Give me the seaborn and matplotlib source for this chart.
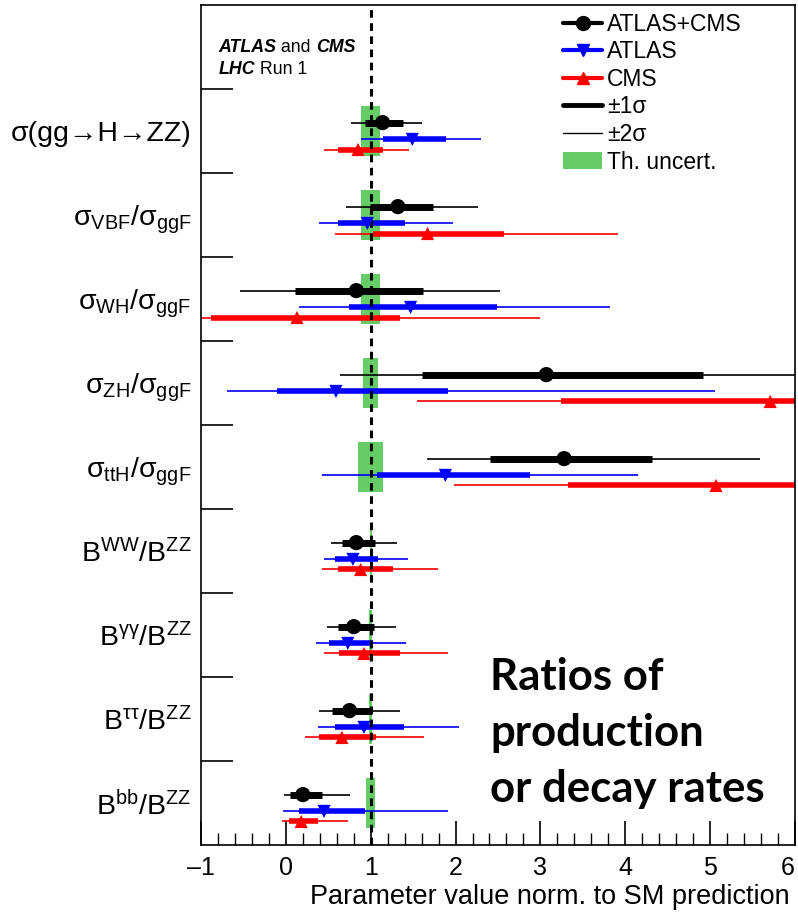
import numpy as np
import pandas as pd
import seaborn as sns
import matplotlib
matplotlib.use("Agg")
import matplotlib.pyplot as plt
from matplotlib.lines import Line2D
from matplotlib.patches import Patch, Rectangle
from matplotlib.ticker import MultipleLocator

# ---------------- data ----------------
labels = [
    "σ(gg→H→ZZ)",
    r"$\mathregular{σ_{VBF}/σ_{ggF}}$",
    r"$\mathregular{σ_{WH}/σ_{ggF}}$",
    r"$\mathregular{σ_{ZH}/σ_{ggF}}$",
    r"$\mathregular{σ_{ttH}/σ_{ggF}}$",
    r"$\mathregular{B^{WW}/B^{ZZ}}$",
    r"$\mathregular{B^{γγ}/B^{ZZ}}$",
    r"$\mathregular{B^{ττ}/B^{ZZ}}$",
    r"$\mathregular{B^{bb}/B^{ZZ}}$",
]

comb_val = [1.14, 1.32, 0.83, 3.07, 3.28, 0.83, 0.80, 0.75, 0.20]
comb_lo1 = [0.93, 0.99, 0.11, 1.61, 2.41, 0.66, 0.62, 0.54, 0.05]
comb_hi1 = [1.38, 1.74, 1.62, 4.92, 4.32, 1.05, 1.04, 1.01, 0.42]
comb_lo2 = [0.77, 0.71, -0.54, 0.64, 1.66, 0.53, 0.49, 0.39, -0.02]
comb_hi2 = [1.61, 2.27, 2.53, 6.50, 5.59, 1.31, 1.30, 1.34, 0.75]

atlas_val = [1.49, 0.96, 1.47, 0.59, 1.88, 0.79, 0.73, 0.92, 0.45]
atlas_lo1 = [1.15, 0.62, 0.74, -0.10, 1.07, 0.58, 0.51, 0.58, 0.16]
atlas_hi1 = [1.89, 1.40, 2.49, 1.91, 2.88, 1.08, 1.03, 1.39, 0.93]
atlas_lo2 = [0.88, 0.39, 0.16, -0.69, 0.42, 0.45, 0.36, 0.38, -0.04]
atlas_hi2 = [2.30, 1.97, 3.82, 5.06, 4.15, 1.44, 1.41, 2.04, 1.91]

cms_val = [0.85, 1.67, 0.13, 5.71, 5.07, 0.88, 0.92, 0.66, 0.18]
cms_lo1 = [0.62, 1.03, -0.88, 3.24, 3.33, 0.61, 0.63, 0.39, 0.04]
cms_hi1 = [1.15, 2.57, 1.34, 6.50, 6.50, 1.26, 1.34, 1.06, 0.38]
cms_lo2 = [0.45, 0.58, -1.20, 1.55, 1.98, 0.43, 0.45, 0.22, -0.05]
cms_hi2 = [1.45, 3.92, 3.00, 6.50, 6.50, 1.79, 1.91, 1.63, 0.73]

th_unc = [0.11, 0.11, 0.11, 0.09, 0.15, 0.01, 0.02, 0.02, 0.05]

xtick_vals = [-1, 0, 1, 2, 3, 4, 5, 6]
xtick_labels = ["–1", "0", "1", "2", "3", "4", "5", "6"]

# ---------------- style ----------------
sns.set_theme(style="ticks")
plt.rcParams["font.family"] = ["Liberation Sans", "DejaVu Sans"]
plt.rcParams["mathtext.fontset"] = "custom"
plt.rcParams["mathtext.rm"] = "Liberation Sans"
plt.rcParams["mathtext.it"] = "Liberation Sans:italic"
plt.rcParams["mathtext.bf"] = "Liberation Sans:bold"
for key in ["text.color", "axes.labelcolor", "xtick.color", "ytick.color", "axes.edgecolor"]:
    plt.rcParams[key] = "black"

fig = plt.figure(figsize=(7.98, 9.15), dpi=100)
ax = fig.add_axes([0.252, 0.0765, 0.744, 0.918])

nrow = len(labels)
rows = np.arange(1, nrow + 1)  # row k occupies [k, k+1]
off = {"comb": 0.40, "atlas": 0.60, "cms": 0.72}

# theory boxes
for k, u in zip(rows, th_unc):
    ax.add_patch(Rectangle((1 - u, k + 0.2), 2 * u, 0.6, facecolor="#66CC66",
                           edgecolor="none", zorder=1))

series = [
    ("comb", "black", "o", comb_val, comb_lo1, comb_hi1, comb_lo2, comb_hi2, 5.0, 120),
    ("atlas", "#0000FF", "v", atlas_val, atlas_lo1, atlas_hi1, atlas_lo2, atlas_hi2, 4.0, 90),
    ("cms", "#FF0000", "^", cms_val, cms_lo1, cms_hi1, cms_lo2, cms_hi2, 4.0, 90),
]

for name, col, mk, val, lo1, hi1, lo2, hi2, lw1, ms in series:
    y = rows + off[name]
    ax.hlines(y, lo2, hi2, color=col, lw=1.2, zorder=2)
    ax.hlines(y, lo1, hi1, color=col, lw=lw1, zorder=2.5)
    df = pd.DataFrame({"x": val, "y": y})
    sns.scatterplot(data=df, x="x", y="y", ax=ax, color=col, marker=mk, s=ms,
                    edgecolor="none", linewidth=0, zorder=4, legend=False)

ax.axvline(1.0, color="black", lw=2.2, ls=(0, (2.5, 1.8)), zorder=3)

ax.set_xlim(-1, 6)
ax.set_ylim(10, 0)
ax.set_xlabel("")
ax.set_ylabel("")

# x ticks
ax.xaxis.set_minor_locator(MultipleLocator(0.2))
ax.set_xticks(xtick_vals)
ax.set_xticklabels(xtick_labels)
ax.get_xticklabels()[-1].set_horizontalalignment("right")
ax.get_xticklabels()[-1].set_x(6.02)
ax.tick_params(axis="x", which="major", direction="in", length=17, width=1.2,
               labelsize=18, pad=8)
ax.tick_params(axis="x", which="minor", direction="in", length=9, width=1.0)

# y ticks: boundaries as major, labels at centers as minor
ax.set_yticks(np.arange(1, nrow + 1))
ax.set_yticklabels([])
ax.set_yticks(rows + 0.5, minor=True)
ax.set_yticklabels(labels, minor=True)
ax.tick_params(axis="y", which="major", direction="in", length=23, width=1.2)
ax.tick_params(axis="y", which="minor", length=0, labelsize=20.5, pad=7)

for sp in ax.spines.values():
    sp.set_color("black")
    sp.set_linewidth(1.2)

ax.text(0.9916, -0.062, "Parameter value norm. to SM prediction", transform=ax.transAxes,
        ha="right", va="center", fontsize=19.5)

# ATLAS and CMS label
fs_t = 12.8
t1 = ax.text(0.029, 0.95, "ATLAS", transform=ax.transAxes, fontsize=fs_t,
             fontweight="bold", fontstyle="italic", va="center", ha="left")
t2 = ax.annotate(" and ", xy=(1, 0), xycoords=t1, va="bottom", ha="left", fontsize=fs_t)
t3 = ax.annotate("CMS", xy=(1, 0), xycoords=t2, va="bottom", ha="left", fontsize=fs_t,
                 fontweight="bold", fontstyle="italic")
t4 = ax.text(0.029, 0.923, "LHC", transform=ax.transAxes, fontsize=fs_t,
             fontweight="bold", fontstyle="italic", va="center", ha="left")
ax.annotate(" Run 1", xy=(1, 0), xycoords=t4, va="bottom", ha="left", fontsize=fs_t)

# big text, one line at a time
big_lines = ["Ratios of", "production", "or decay rates"]
big_y = [0.1845, 0.1179, 0.0512]
for s, yy in zip(big_lines, big_y):
    ax.text(0.4865, yy, s, transform=ax.transAxes, ha="left", va="baseline",
            fontsize=31.5, fontweight="bold", family=["Lato", "DejaVu Sans"])

# legend
handles = [
    Line2D([], [], color="black", lw=3, marker="o", ms=10),
    Line2D([], [], color="#0000FF", lw=3, marker="v", ms=9),
    Line2D([], [], color="#FF0000", lw=3, marker="^", ms=9),
    Line2D([], [], color="black", lw=3.5),
    Line2D([], [], color="black", lw=1),
    Patch(facecolor="#66CC66", edgecolor="none"),
]
leg_labels = ["ATLAS+CMS", "ATLAS", "CMS", "±1σ", "±2σ", "Th. uncert."]
ax.legend(handles, leg_labels, loc="upper left", bbox_to_anchor=(0.61, 0.991),
          frameon=False, fontsize=16.5, handlelength=1.7, handletextpad=0.2,
          labelspacing=0.2, borderpad=0.0, borderaxespad=0.0, numpoints=1)

fig.savefig("out.png", dpi=100)
